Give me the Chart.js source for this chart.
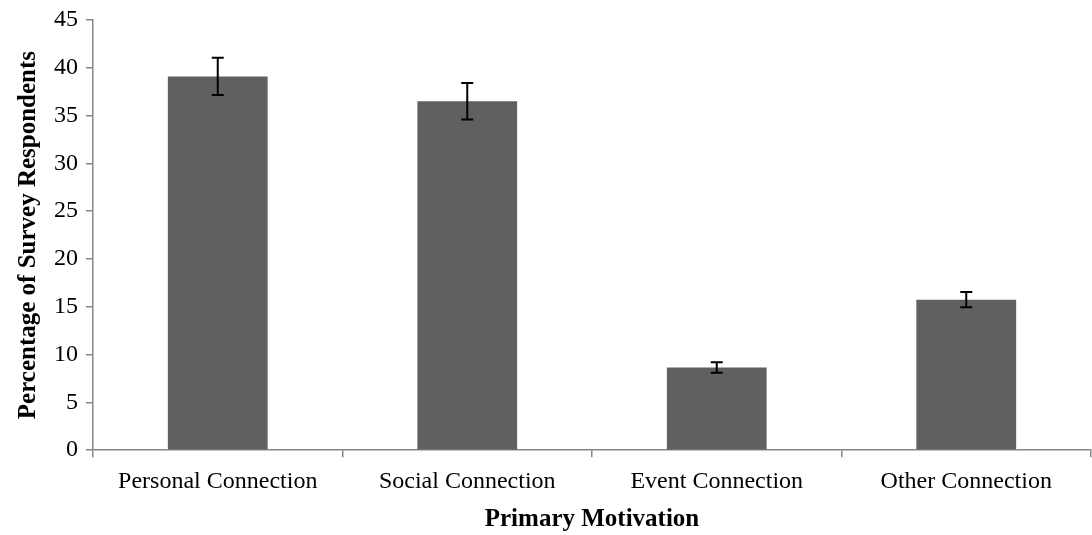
<!DOCTYPE html>
<html>
<head>
<meta charset="utf-8">
<script src="https://cdn.jsdelivr.net/npm/chart.js@4/dist/chart.umd.min.js"></script>
<style>
  html, body { margin: 0; padding: 0; background: #fff; }
  #wrap { width: 1092px; height: 535px; }
</style>
</head>
<body>
<div id="wrap"><canvas id="chart"></canvas></div>
<script>
// categories and values
const categories = ['Personal Connection', 'Social Connection', 'Event Connection', 'Other Connection'];
const percentages = [39.1, 36.5, 8.65, 15.75];
const errors = [1.95, 1.9, 0.55, 0.8];
const yTicks = [0, 5, 10, 15, 20, 25, 30, 35, 40, 45];

const axisGray = '#868686';
const serif = "'Liberation Serif', 'Times New Roman', serif";

// draws the error bars using the chart's own scales
const errorBarPlugin = {
  id: 'errorBars',
  afterDatasetsDraw(chart) {
    const { ctx, scales: { x, y } } = chart;
    ctx.save();
    ctx.strokeStyle = '#000';
    ctx.lineWidth = 2;
    percentages.forEach((v, i) => {
      const cx = x.getPixelForValue(i);
      const top = y.getPixelForValue(v + errors[i]);
      const bot = y.getPixelForValue(v - errors[i]);
      ctx.beginPath();
      ctx.moveTo(cx, top); ctx.lineTo(cx, bot);
      ctx.moveTo(cx - 6, top); ctx.lineTo(cx + 6, top);
      ctx.moveTo(cx - 6, bot); ctx.lineTo(cx + 6, bot);
      ctx.stroke();
    });
    ctx.restore();
  }
};

new Chart(document.getElementById('chart').getContext('2d'), {
  type: 'bar',
  data: {
    labels: categories,
    datasets: [{
      data: percentages,
      backgroundColor: '#606060',
      borderWidth: 0,
      barPercentage: 0.4,
      categoryPercentage: 1.0
    }]
  },
  options: {
    responsive: true,
    maintainAspectRatio: false,
    animation: false,
    layout: { padding: { top: 2, right: 1, left: 14, bottom: 3 } },
    plugins: {
      legend: { display: false },
      tooltip: { enabled: false }
    },
    scales: {
      x: {
        grid: {
          display: true,
          offset: true,
          drawOnChartArea: false,
          drawTicks: true,
          tickLength: 7,
          color: axisGray,
          lineWidth: 1.5
        },
        border: { color: axisGray, width: 1.5 },
        ticks: { color: '#000', font: { family: serif, size: 24 }, padding: 10, maxRotation: 0 },
        title: {
          display: true,
          text: 'Primary Motivation',
          color: '#000',
          font: { family: serif, size: 25, weight: 'bold', lineHeight: 1.0 },
          padding: { top: 1, bottom: 0 }
        }
      },
      y: {
        min: 0,
        max: 45,
        afterBuildTicks: (axis) => { axis.ticks = yTicks.map(v => ({ value: v })); },
        grid: {
          display: true,
          drawOnChartArea: false,
          drawTicks: true,
          tickLength: 7,
          color: axisGray,
          lineWidth: 1.5
        },
        border: { color: axisGray, width: 1.5 },
        ticks: { color: '#000', font: { family: serif, size: 24, lineHeight: 1.0 }, padding: 8 },
        title: {
          display: true,
          text: 'Percentage of Survey Respondents',
          color: '#000',
          font: { family: serif, size: 25, weight: 'bold' },
          padding: { top: 0, bottom: 2 }
        }
      }
    }
  },
  plugins: [errorBarPlugin]
});
</script>
</body>
</html>
